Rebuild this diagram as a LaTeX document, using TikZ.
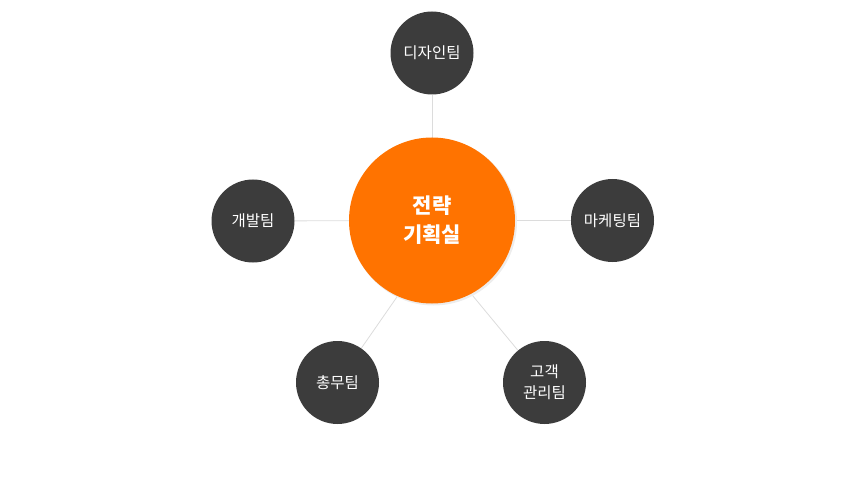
\documentclass[tikz,border=0pt]{standalone}
\usepackage{fontspec}
\setmainfont{Noto Sans CJK KR}
\definecolor{orangec}{HTML}{FF7300}
\definecolor{darkc}{HTML}{3C3C3C}
\definecolor{linec}{HTML}{DCDCDC}
\pgfdeclarelayer{bg}
\pgfsetlayers{bg,main}
\begin{document}
\begin{tikzpicture}[x=1pt,y=-1pt,
  team/.style={circle,fill=darkc,minimum size=83pt,inner sep=0pt,text=white,font=\fontsize{15.5}{21}\selectfont,align=center},
  hub/.style={circle,fill=orangec,minimum size=166pt,inner sep=0pt,text=white,font=\fontsize{21}{29}\selectfont\bfseries,align=center},
  link/.style={draw=linec,line width=0.8pt}]
\useasboundingbox (0,0) rectangle (868,484);
\fill[black!7] (433.5,222) circle (83.5pt);
\node[hub] (c) at (432,220.5) {전략\\기획실};
\coordinate (cb) at (432,246.5);
\node[team] (t) at (432,53) {디자인팀};
\node[team] (l) at (253,221) {개발팀};
\node[team] (r) at (612.5,220.5) {마케팅팀};
\node[team] (bl) at (337.5,382.5) {총무팀};
\node[team] (br) at (544.5,382.5) {고객\\관리팀};
\begin{pgfonlayer}{bg}
\draw[link] (c.center) -- (t);
\draw[link] (c.center) -- (l);
\draw[link] (c.center) -- (r);
\draw[link] (cb) -- (bl);
\draw[link] (cb) -- (br);
\end{pgfonlayer}
\end{tikzpicture}
\end{document}
